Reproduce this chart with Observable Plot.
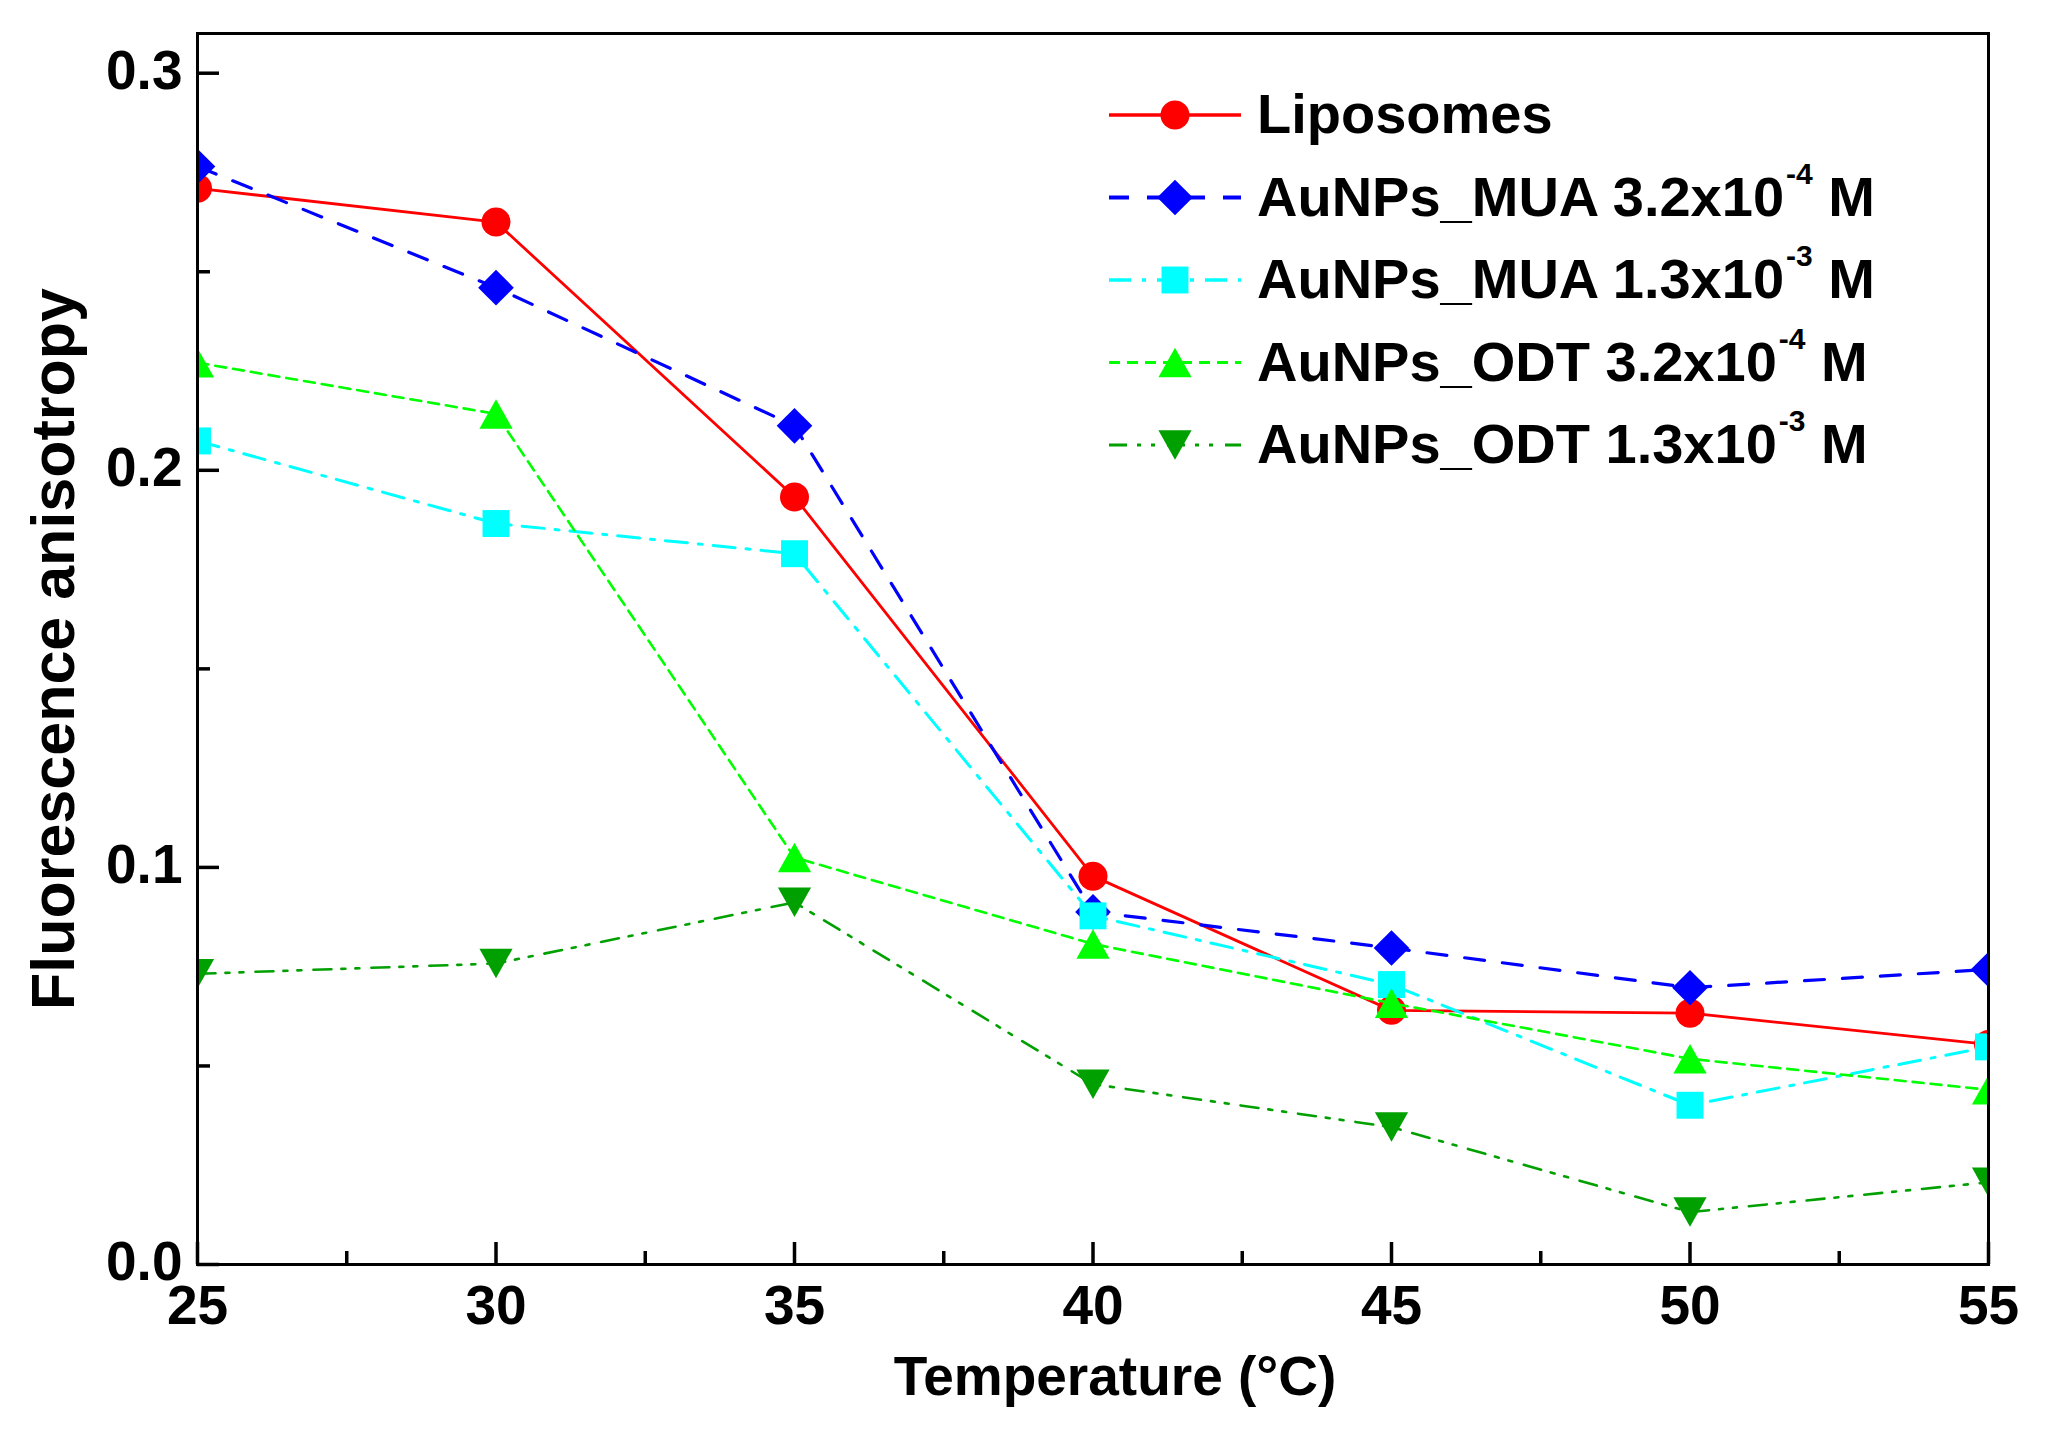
<!DOCTYPE html>
<html>
<head>
<meta charset="utf-8">
<script src="https://cdn.jsdelivr.net/npm/d3@7"></script>
<script src="https://cdn.jsdelivr.net/npm/@observablehq/plot@0.6"></script>
<style>
html, body { margin: 0; padding: 0; background: #ffffff; }
#chart { position: relative; width: 2059px; height: 1441px; }
</style>
</head>
<body>
<div id="chart"></div>
<script>
// ---------- data ----------
const temperatures = [25, 30, 35, 40, 45, 50, 55];
const liposomes = [0.2710, 0.2625, 0.1933, 0.0978, 0.0640, 0.0633, 0.0554];
const muaLow    = [0.2765, 0.2460, 0.2112, 0.0888, 0.0797, 0.0697, 0.0743];
const muaHigh   = [0.2074, 0.1866, 0.1790, 0.0878, 0.0705, 0.0401, 0.0548];
const odtLow    = [0.2271, 0.2142, 0.1025, 0.0807, 0.0658, 0.0518, 0.0440];
const odtHigh   = [0.0732, 0.0758, 0.0912, 0.0454, 0.0346, 0.0132, 0.0207];

const legendBase = ["Liposomes", "AuNPs_MUA 3.2x10", "AuNPs_MUA 1.3x10", "AuNPs_ODT 3.2x10", "AuNPs_ODT 1.3x10"];
const legendExp  = [null, "-4", "-3", "-4", "-3"];
const legendUnit = ["", " M", " M", " M", " M"];

const xTicks = [25, 30, 35, 40, 45, 50, 55];
const xMinorTicks = [27.5, 32.5, 37.5, 42.5, 47.5, 52.5];
const yTicks = [0, 0.1, 0.2, 0.3];
const yMinorTicks = [0.05, 0.15, 0.25];

const xLabel = "Temperature (°C)";
const yLabel = "Fluorescence anisotropy";

// ---------- symbols (centred on bounding box) ----------
const symDiamond = {draw(ctx, size) { const r = Math.sqrt(size / Math.PI) * 1.1;
  ctx.moveTo(0, -r); ctx.lineTo(r, 0); ctx.lineTo(0, r); ctx.lineTo(-r, 0); ctx.closePath(); }};
const symSquare = {draw(ctx, size) { const h = Math.sqrt(size / Math.PI) * 0.886;
  ctx.moveTo(-h, -h); ctx.lineTo(h, -h); ctx.lineTo(h, h); ctx.lineTo(-h, h); ctx.closePath(); }};
const symTriUp = {draw(ctx, size) { const r = Math.sqrt(size / Math.PI); const hw = r * 1.35, hh = r * 1.2;
  ctx.moveTo(0, -hh); ctx.lineTo(hw, hh); ctx.lineTo(-hw, hh); ctx.closePath(); }};
const symTriDown = {draw(ctx, size) { const r = Math.sqrt(size / Math.PI); const hw = r * 1.35, hh = r * 1.2;
  ctx.moveTo(0, hh); ctx.lineTo(hw, -hh); ctx.lineTo(-hw, -hh); ctx.closePath(); }};

// ---------- series styling ----------
const seriesValues = [liposomes, muaLow, muaHigh, odtLow, odtHigh];
const seriesStyle = [
  {color: "#ff0000", symbol: "circle",   r: 14.5, width: 2.8, dash: null},
  {color: "#0000ff", symbol: symDiamond, r: 16.2, width: 3.2, dash: "20,18"},
  {color: "#00ffff", symbol: symSquare,  r: 15.2, width: 3.0, dash: "22,11,4,11"},
  {color: "#00ff00", symbol: symTriUp,   r: 12.3, width: 2.6, dash: "11,7"},
  {color: "#00a000", symbol: symTriDown, r: 12.3, width: 2.6, dash: "18,10,4,10,4,12"}
];

const tables = seriesValues.map(vals => temperatures.map((t, i) => ({t, v: vals[i]})));

const marks = [];
tables.forEach((tbl, k) => {
  const s = seriesStyle[k];
  marks.push(Plot.line(tbl, {x: "t", y: "v", stroke: s.color, strokeWidth: s.width,
    strokeDasharray: s.dash ?? undefined, clip: true}));
  marks.push(Plot.dot(tbl, {x: "t", y: "v", symbol: () => s.symbol, r: s.r,
    fill: s.color, stroke: "none", clip: true}));
});

const plot = Plot.plot({
  width: 2059,
  height: 1441,
  marginLeft: 197,
  marginRight: 71,
  marginTop: 33,
  marginBottom: 177,
  style: {fontFamily: "'Liberation Sans', Arial, sans-serif", fontWeight: "bold", fontSize: "55px", background: "#ffffff", color: "#000000"},
  x: {domain: [25, 55]},
  y: {domain: [0, 0.31]},
  symbol: {type: "identity"},
  marks: [
    ...marks,
    Plot.frame({stroke: "black", strokeWidth: 3}),
    // inward major / minor ticks
    Plot.axisX(xTicks, {tickSize: 22, dy: -22, fill: "none", tickFormat: () => "", label: null, strokeWidth: 3.5}),
    Plot.axisX(xMinorTicks, {tickSize: 13, dy: -13, fill: "none", tickFormat: () => "", label: null, strokeWidth: 3.5}),
    Plot.axisY(yTicks, {tickSize: 22, dx: 22, fill: "none", tickFormat: () => "", label: null, strokeWidth: 3.5}),
    Plot.axisY(yMinorTicks, {tickSize: 13, dx: 13, fill: "none", tickFormat: () => "", label: null, strokeWidth: 3.5}),
    // tick labels
    Plot.axisX(xTicks, {tickSize: 0, tickPadding: 20, tickFormat: d3.format("d"), label: null, fontSize: 55}),
    Plot.axisY(yTicks, {tickSize: 0, tickPadding: 15, tickFormat: d3.format(".1f"), label: null, dy: -2, fontSize: 55}),
    // axis titles
    Plot.text([xLabel], {text: d => d, frameAnchor: "bottom", textAnchor: "middle", lineAnchor: "middle",
      dx: 22, dy: 113, fontSize: 55, fontWeight: "bold"}),
    Plot.text([yLabel], {text: d => d, frameAnchor: "left", textAnchor: "middle", lineAnchor: "middle",
      rotate: -90, dx: -143, fontSize: 61, fontWeight: "bold"})
  ]
});

document.getElementById("chart").appendChild(plot);

// ---------- legend inside the frame ----------
const svg = d3.select(plot);
const lg = svg.append("g").attr("class", "legend");
const legX0 = 1109, legX1 = 1241, legMark = 1175, legText = 1257, legBase0 = 133, legStep = 82.5;
seriesStyle.forEach((s, k) => {
  const base = legBase0 + k * legStep;
  const ly = base - 18;
  lg.append("line").attr("x1", legX0).attr("x2", legX1).attr("y1", ly).attr("y2", ly)
    .attr("stroke", s.color).attr("stroke-width", s.width + 0.6)
    .attr("stroke-dasharray", s.dash ?? null);
  if (s.symbol === "circle") {
    lg.append("circle").attr("cx", legMark).attr("cy", ly).attr("r", s.r).attr("fill", s.color);
  } else {
    lg.append("path").attr("transform", `translate(${legMark},${ly})`)
      .attr("d", d3.symbol(s.symbol, Math.PI * s.r * s.r)()).attr("fill", s.color);
  }
  const t = lg.append("text").attr("x", legText).attr("y", base)
    .attr("text-anchor", "start")
    .attr("font-family", "'Liberation Sans', Arial, sans-serif").attr("font-weight", "bold")
    .attr("font-size", 56).attr("fill", "#000");
  t.append("tspan").text(legendBase[k]);
  if (legendExp[k]) {
    t.append("tspan").attr("dx", 2).attr("dy", -32).attr("font-size", 30).text(legendExp[k]);
    t.append("tspan").attr("dy", 32).text(legendUnit[k]);
  }
});
</script>
</body>
</html>
